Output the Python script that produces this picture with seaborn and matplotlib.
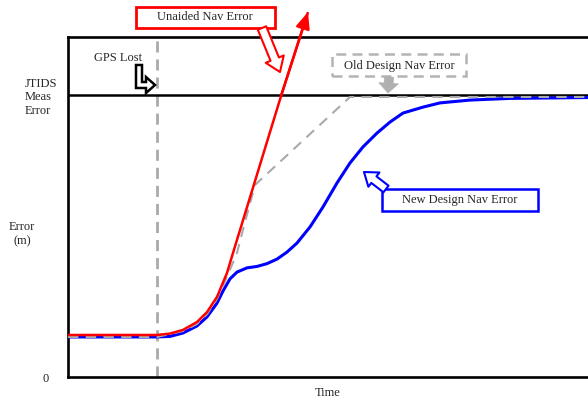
import matplotlib
matplotlib.use('Agg')
import matplotlib.pyplot as plt
import matplotlib.patches as mpatches
import seaborn as sns

# Curves (time in arbitrary units, error with JTIDS level = 10)
unaided_t = [0, 89, 102, 115, 129, 139, 149, 159, 165, 172, 213, 240]
unaided_e = [1.49, 1.49, 1.54, 1.67, 1.95, 2.30, 2.84, 3.69, 4.40, 5.21, 9.96, 12.94]

old_t = [0, 89, 115, 129, 139, 149, 159, 169, 177, 187, 282, 520]
old_e = [1.42, 1.42, 1.63, 1.88, 2.23, 2.77, 3.55, 4.40, 5.50, 6.81, 9.93, 9.93]

new_t = [0, 89, 102, 115, 129, 139, 149, 155, 162, 169, 179, 189, 199, 209, 219,
         229, 242, 255, 269, 282, 295, 309, 322, 335, 355, 372, 402, 442, 520]
new_e = [1.42, 1.42, 1.44, 1.56, 1.81, 2.13, 2.62, 3.05, 3.48, 3.72, 3.87, 3.92,
         4.02, 4.18, 4.43, 4.75, 5.32, 6.03, 6.88, 7.59, 8.16, 8.65, 9.04, 9.36,
         9.57, 9.72, 9.82, 9.88, 9.91]

gps_lost_t = 89
jtids_level = 10
ytick_vals = [0, jtids_level]
ytick_labels = ['0', 'JTIDS\nMeas\nError']

W, H = 588, 400
RED, BLUE, GRAY = '#ff0000', '#0000ff', '#aaaaaa'
FONT = ['Liberation Serif', 'DejaVu Serif']

sns.set_theme(style='white')
plt.rcParams['font.family'] = FONT

fig = plt.figure(figsize=(W / 100, H / 100), dpi=100)
ax = fig.add_axes([68 / W, 23 / H, 520 / W, 340 / H])


def fp(x, y):
    # pixel position (from top-left) -> figure fraction
    return (x / W, 1 - y / H)


ax.axvline(gps_lost_t, color=GRAY, lw=2, linestyle=(0, (4, 2.5)), zorder=1)
ax.axhline(jtids_level, color='black', lw=1.8, zorder=2)

sns.lineplot(x=new_t, y=new_e, ax=ax, color=BLUE, lw=2.2, sort=False, zorder=3)
sns.lineplot(x=old_t, y=old_e, ax=ax, color=GRAY, lw=1.5, sort=False,
             linestyle=(0, (5, 3.5)), zorder=4)
sns.lineplot(x=unaided_t, y=unaided_e, ax=ax, color=RED, lw=1.8, sort=False,
             zorder=5, clip_on=False, solid_capstyle='butt')
ax.annotate('', xy=(unaided_t[-1], unaided_e[-1]), xytext=(unaided_t[-2], unaided_e[-2]),
            arrowprops=dict(arrowstyle='-|>,head_length=0.7,head_width=0.3', color=RED,
                            lw=1.8, shrinkA=0, shrinkB=0, mutation_scale=14),
            annotation_clip=False, zorder=6)

ax.set_xlim(0, 520)
ax.set_ylim(0, 340 / 28.2)
ax.set_xticks([])
ax.set_yticks(ytick_vals)
ax.set_yticklabels(ytick_labels, fontsize=9, family=FONT)
ax.tick_params(axis='y', length=0, pad=8)
ax.get_yticklabels()[1].set_multialignment('left')
ax.yaxis.get_major_ticks()[0].set_pad(14)

for side in ['left', 'top', 'bottom']:
    ax.spines[side].set_color('black')
    ax.spines[side].set_linewidth(1.9)
ax.spines['right'].set_visible(False)

ax.set_xlabel('Time', fontsize=9, labelpad=7, family=FONT)
ax.set_ylabel('Error\n(m)', fontsize=9, rotation=0, ha='center', va='center',
              multialignment='center', family=FONT)
ax.yaxis.set_label_coords(-46 / 520, (377 - 234) / 340)


# Callout boxes
def box(x0, y0, x1, y1, ec, lw, ls='-'):
    r = mpatches.Rectangle(fp(x0, y1), (x1 - x0) / W, (y1 - y0) / H,
                           transform=fig.transFigure, fc='white', ec=ec, lw=lw,
                           linestyle=ls, zorder=10)
    fig.add_artist(r)


def arrow(p0, p1, fc, ec, tail, head_w, head_l, lw=1.5):
    a = mpatches.FancyArrowPatch(
        posA=fp(*p0), posB=fp(*p1), transform=fig.transFigure,
        arrowstyle=mpatches.ArrowStyle.Simple(head_length=head_l, head_width=head_w,
                                              tail_width=tail),
        mutation_scale=1, fc=fc, ec=ec, lw=lw, shrinkA=0, shrinkB=0, zorder=11)
    fig.add_artist(a)


box(136, 7, 275, 28, RED, 2.0)
fig.text(*fp(205, 17.5), 'Unaided Nav Error', ha='center', va='center', fontsize=9,
         family=FONT, zorder=12)
arrow((262, 28), (280, 72), 'white', RED, 6.5, 14, 10)

box(332, 54, 466, 76, '#b4b4b4', 1.8, (0, (4, 2.5)))
fig.text(*fp(399, 65.5), 'Old Design Nav Error', ha='center', va='center', fontsize=9,
         family=FONT, zorder=12)
arrow((389, 77), (388, 93), '#b0b0b0', '#b0b0b0', 6.5, 14, 7, lw=0.5)

box(382, 189, 538, 211, BLUE, 1.8)
fig.text(*fp(460, 200.5), 'New Design Nav Error', ha='center', va='center', fontsize=9,
         family=FONT, zorder=12)
arrow((386, 189), (364, 172), 'white', BLUE, 6, 13, 9)

# GPS lost label with L-shaped hollow arrow
fig.text(*fp(118, 58), 'GPS Lost', ha='center', va='center', fontsize=9, family=FONT)
l_pts = [(136, 65), (142, 65), (142, 82), (146, 82), (146, 77), (155, 85),
         (146, 93), (146, 88), (136, 88)]
fig.add_artist(mpatches.Polygon([fp(x, y) for x, y in l_pts], closed=True,
                                transform=fig.transFigure, fc='white', ec='black',
                                lw=1.8, zorder=11))

fig.savefig('out.png', dpi=100)
